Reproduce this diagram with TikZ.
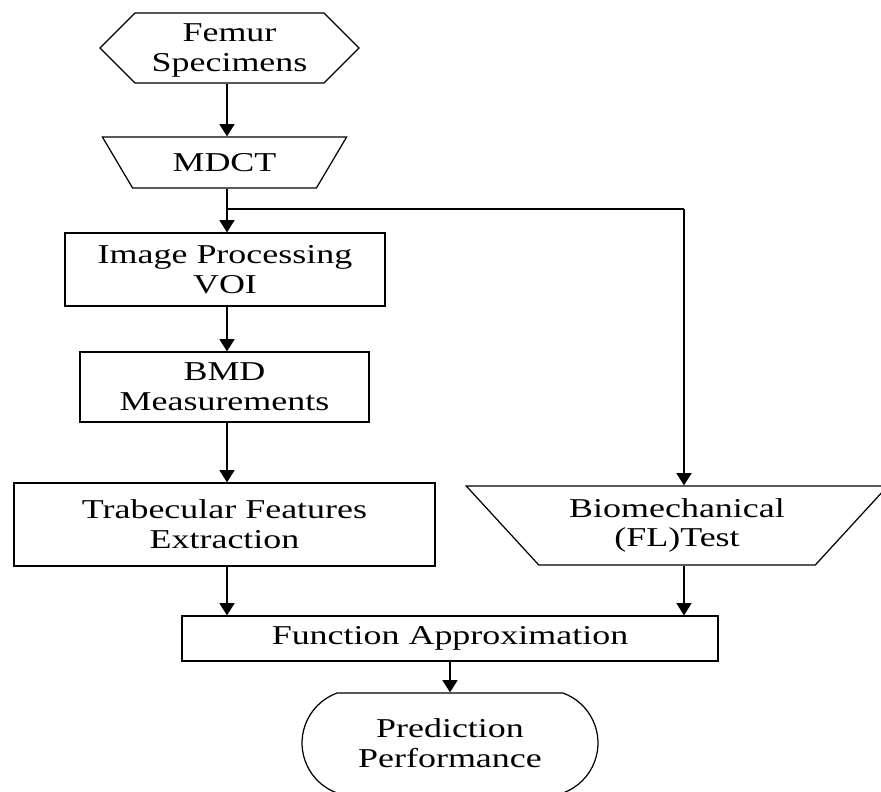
\documentclass[tikz,border=0pt]{standalone}
\usepackage{fontspec}
\setmainfont{Liberation Serif}[FakeStretch=1.32]
\usetikzlibrary{positioning,shapes.geometric,shapes.misc,shapes.symbols,arrows.meta}
\newcommand{\boxfont}{\fontsize{15.5}{17}\selectfont\lineskiplimit=-30pt}

\begin{document}
\begin{tikzpicture}[x=0.02cm, y=-0.02cm,
  every node/.style={font=\boxfont, align=center, inner sep=0pt},
  box/.style={draw, rectangle, line width=0.7pt},
  arr/.style={-{Triangle[width=8.5pt,length=7pt]}, line width=1.1pt}]
\useasboundingbox (0,0) rectangle (881,791);
% Input and scan
\node[draw, line width=0.7pt, signal, signal to=west and east, signal pointer angle=90, minimum width=5.18cm, minimum height=1.4cm, text depth=0pt] (femur) at (229.5,48) {Femur\\Specimens};
\node[draw, line width=0.7pt, trapezium, shape border rotate=180, trapezium left angle=47, trapezium right angle=47, trapezium stretches=true, minimum width=4.9cm, minimum height=1.02cm] (mdct) at (224.5,162.5) {MDCT};

% Image branch
\node[box, minimum width=6.4cm, minimum height=1.46cm] (imgproc) at (225,269.5) {Image Processing\\VOI};
\node[box, minimum width=5.78cm, minimum height=1.4cm] (bmd) at (224.5,387) {BMD\\Measurements};
\node[box, minimum width=8.42cm, minimum height=1.66cm] (trab) at (224.5,524.5) {Trabecular Features\\Extraction};

% Mechanical branch
\node[draw, line width=0.7pt, trapezium, shape border rotate=180, trapezium left angle=44, trapezium right angle=44, trapezium stretches=true, minimum width=8.44cm, minimum height=1.58cm] (biomech) at (677,525.5) {Biomechanical\\(FL)Test};

% Output
\node[box, minimum width=10.72cm, minimum height=0.9cm] (func) at (450,638.5) {Function Approximation};
\node[draw, line width=0.7pt, rounded rectangle, rounded rectangle arc length=140, minimum width=5.92cm, minimum height=2cm] (pred) at (450,743) {Prediction\\Performance};

\coordinate (col) at (227,0);
\coordinate (bcol) at (684,0);
\coordinate (split) at (227,209);

\draw[arr] (femur.south -| col) -- (mdct.north -| col);
\draw[line width=1.1pt] (mdct.south -| col) -- (split);
\draw[arr] (split) -- (imgproc.north -| col);
\draw[line width=1pt] (split) -- (split -| bcol);
\draw[arr] (split -| bcol) -- (biomech.north -| bcol);
\draw[arr] (imgproc.south -| col) -- (bmd.north -| col);
\draw[arr] (bmd.south -| col) -- (trab.north -| col);
\draw[arr] (trab.south -| col) -- (func.north -| col);
\draw[arr] (biomech.south -| bcol) -- (func.north -| bcol);
\draw[arr] (func) -- (pred);
\end{tikzpicture}
\end{document}
